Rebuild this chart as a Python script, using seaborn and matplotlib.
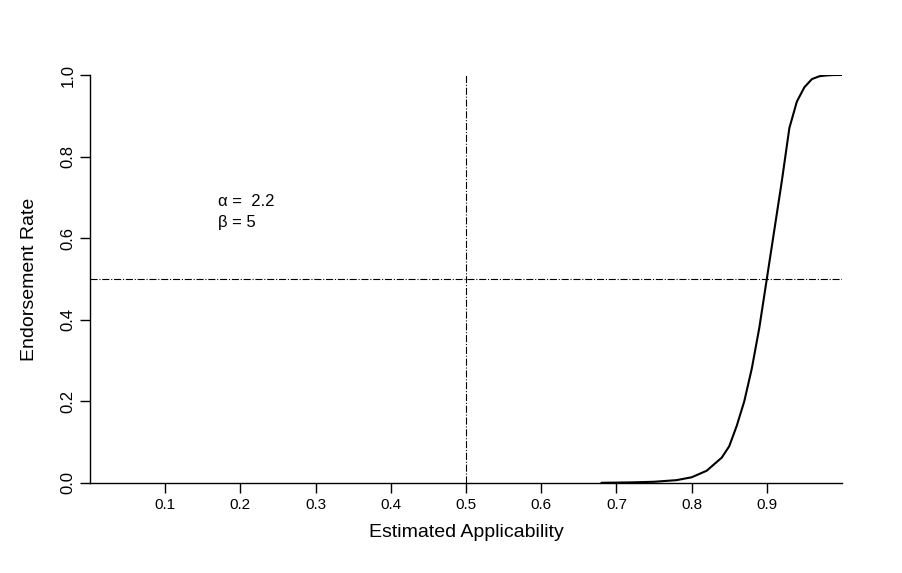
import matplotlib
matplotlib.use("Agg")
import matplotlib.pyplot as plt
import seaborn as sns
import pandas as pd

x_vals = [0.68, 0.70, 0.72, 0.75, 0.78, 0.80, 0.82, 0.84, 0.85, 0.86, 0.87, 0.88, 0.89,
          0.90, 0.91, 0.92, 0.93, 0.94, 0.95, 0.96, 0.97, 0.98, 0.99, 1.00]
y_vals = [0.0005, 0.001, 0.0015, 0.003, 0.007, 0.014, 0.03, 0.062, 0.09, 0.14, 0.2, 0.28, 0.38,
          0.50, 0.62, 0.74, 0.87, 0.935, 0.97, 0.99, 0.997, 0.999, 1.0, 1.0]
x_ticks = [0.1, 0.2, 0.3, 0.4, 0.5, 0.6, 0.7, 0.8, 0.9]
y_ticks = [0.0, 0.2, 0.4, 0.6, 0.8, 1.0]

sns.set_style("white")
plt.rcParams['font.family'] = ['Liberation Sans', 'DejaVu Sans']
plt.rcParams['text.color'] = 'black'
plt.rcParams['axes.labelcolor'] = 'black'
plt.rcParams['xtick.color'] = 'black'
plt.rcParams['ytick.color'] = 'black'

fig = plt.figure(figsize=(9.02, 5.73), dpi=100)
ax = fig.add_axes([90/902, 90/573, 752/902, 408/573])
df = pd.DataFrame({"x": x_vals, "y": y_vals})
sns.lineplot(data=df, x="x", y="y", ax=ax, color="black", linewidth=1.5)
ax.axvline(0.5, color="black", lw=0.8, ls="-.")
ax.axhline(0.5, color="black", lw=0.8, ls="-.")
ax.set_xlim(0, 1)
ax.set_ylim(0, 1)
for s in ["top", "right"]:
    ax.spines[s].set_visible(False)
for s in ["left", "bottom"]:
    ax.spines[s].set_color("black")
    ax.spines[s].set_linewidth(1)
ax.set_xticks(x_ticks)
ax.set_xticklabels([f"{t:.1f}" for t in x_ticks], fontsize=11)
ax.set_yticks(y_ticks)
ax.set_yticklabels([f"{t:.1f}" for t in y_ticks], fontsize=12, rotation=90, va="center")
ax.tick_params(direction="out", length=7, width=1, color="black", left=True, bottom=True)
ax.set_xlabel("Estimated Applicability", fontsize=14, labelpad=9)
ax.set_ylabel("Endorsement Rate", fontsize=14, labelpad=16)
ax.text(0.17, 0.69, "α =  2.2", fontsize=12, va="center")
ax.text(0.17, 0.638, "β = 5", fontsize=12, va="center")
fig.savefig("out.png", dpi=100)
